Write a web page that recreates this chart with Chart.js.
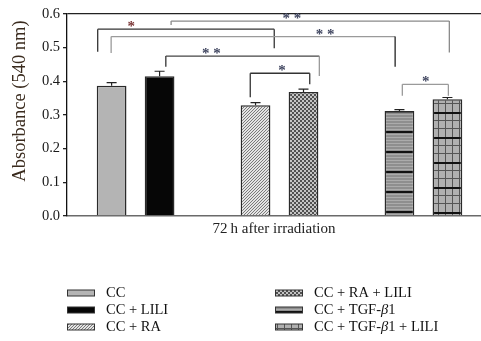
<!DOCTYPE html>
<html>
<head>
<meta charset="utf-8">
<script src="https://cdn.jsdelivr.net/npm/chart.js@4"></script>
<style>
  html, body { margin: 0; padding: 0; background: #fff; }
  #wrap { width: 481px; height: 341px; }
</style>
</head>
<body>
<div id="wrap"><canvas id="chart" width="481" height="341"></canvas></div>
<script>
// groups, in bar order
const groups = ["CC", "CC + LILI", "CC + RA", "CC + RA + LILI", "CC + TGF-β1", "CC + TGF-β1 + LILI"];
// slot of each bar on the x axis (gaps between the three pairs)
const slots = [0, 1, 3, 4, 6, 7];
const absorbance = [0.387, 0.415, 0.329, 0.368, 0.312, 0.347];
const errors = [0.009, 0.015, 0.008, 0.009, 0.004, 0.005];
const yTicks = [0.0, 0.1, 0.2, 0.3, 0.4, 0.5, 0.6];

// significance brackets (x in slot units, y in absorbance units)
const sigLeft = [-0.29, 1.24, -0.01, 1.13, 2.89, 6.06];
const sigRight = [3.39, 7.04, 5.91, 4.33, 4.13, 7.02];
const sigTop = [0.555, 0.579, 0.533, 0.475, 0.424, 0.391];
const sigLeftFoot = [0.488, 0.567, 0.484, 0.443, 0.353, 0.357];
const sigRightFoot = [0.498, 0.486, 0.443, 0.416, 0.391, 0.357];
const sigMark = ["*", "* *", "* *", "* *", "*", "*"];
const sigMarkAt = [0.41, 3.76, 4.45, 2.08, 3.55, 6.55];

const serif = "'Liberation Serif', 'Times New Roman', serif";

function makePattern(w, h, paint) {
	const c = document.createElement("canvas");
	c.width = w;
	c.height = h;
	paint(c.getContext("2d"), w, h);
	return c;
}

const ctx = document.getElementById("chart").getContext("2d");

const hatchTile = makePattern(3, 3, (g) => {
	g.fillStyle = "#e4e4e4";
	g.fillRect(0, 0, 3, 3);
	g.fillStyle = "#7a7a7a";
	g.fillRect(2, 0, 1, 1);
	g.fillRect(1, 1, 1, 1);
	g.fillRect(0, 2, 1, 1);
});
const dotTile = makePattern(4, 4, (g) => {
	g.fillStyle = "#c4c4c4";
	g.fillRect(0, 0, 4, 4);
	g.fillStyle = "#505050";
	g.fillRect(0, 0, 2, 2);
	g.fillRect(2, 2, 2, 2);
});
const lineTile = makePattern(4, 20, (g) => {
	g.fillStyle = "#8e8e8e";
	g.fillRect(0, 0, 4, 20);
	g.fillStyle = "#ababab";
	for (let y = 3; y < 20; y += 3) g.fillRect(0, y, 4, 1);
	g.fillStyle = "#111";
	g.fillRect(0, 0, 4, 2);
});
const gridTile = makePattern(7, 25, (g) => {
	g.fillStyle = "#b0b0b0";
	g.fillRect(0, 0, 7, 25);
	g.fillStyle = "#555";
	g.fillRect(0, 0, 1, 25);
	g.fillRect(0, 8, 7, 1);
	g.fillRect(0, 16, 7, 1);
	g.fillStyle = "#111";
	g.fillRect(0, 0, 7, 2);
});

const hatch = ctx.createPattern(hatchTile, "repeat");
const dots = ctx.createPattern(dotTile, "repeat");
const lines = ctx.createPattern(lineTile, "repeat");
lines.setTransform(new DOMMatrix().translate(0, 11));
const grid = ctx.createPattern(gridTile, "repeat");
grid.setTransform(new DOMMatrix().translate(4, 12));

const fills = ["#b4b4b4", "#060606", hatch, dots, lines, grid];

const bracketStyle = [
	{ l: "#333", h: "#333", r: "#333" },
	{ l: "#8a8a8a", h: "#8a8a8a", r: "#8a8a8a" },
	{ l: "#9a9a9a", h: "#9a9a9a", r: "#222" },
	{ l: "#333", h: "#444", r: "#9a9a9a" },
	{ l: "#333", h: "#333", r: "#333" },
	{ l: "#9a9a9a", h: "#9a9a9a", r: "#9a9a9a" },
];

function drawRich(g, text, x, y, size) {
	const parts = text.split("β");
	let cx = x;
	parts.forEach((p, i) => {
		g.font = `${size}px ${serif}`;
		g.fillText(p, cx, y);
		cx += g.measureText(p).width;
		if (i < parts.length - 1) {
			g.font = `italic ${size}px ${serif}`;
			g.fillText("β", cx, y);
			cx += g.measureText("β").width;
		}
	});
}

const annotations = {
	id: "annotations",
	afterDatasetsDraw(chart) {
		const { ctx: g, scales: { x, y } } = chart;
		g.save();

		// error bars
		g.strokeStyle = "#222";
		g.lineWidth = 1.2;
		absorbance.forEach((v, i) => {
			const px = x.getPixelForValue(slots[i]);
			const base = y.getPixelForValue(v);
			const top = y.getPixelForValue(v + errors[i]);
			g.beginPath();
			g.moveTo(px, base);
			g.lineTo(px, top);
			g.moveTo(px - 5, top);
			g.lineTo(px + 5, top);
			g.stroke();
		});

		// significance brackets
		g.lineWidth = 1.3;
		sigLeft.forEach((l, i) => {
			const xl = x.getPixelForValue(l);
			const xr = x.getPixelForValue(sigRight[i]);
			const yt = y.getPixelForValue(sigTop[i]);
			const st = bracketStyle[i];
			g.strokeStyle = st.l;
			g.beginPath();
			g.moveTo(xl, y.getPixelForValue(sigLeftFoot[i]));
			g.lineTo(xl, yt);
			g.stroke();
			g.strokeStyle = st.h;
			g.beginPath();
			g.moveTo(xl, yt);
			g.lineTo(xr, yt);
			g.stroke();
			g.strokeStyle = st.r;
			g.beginPath();
			g.moveTo(xr, yt);
			g.lineTo(xr, y.getPixelForValue(sigRightFoot[i]));
			g.stroke();

			g.font = `bold 15px ${serif}`;
			g.textAlign = "center";
			g.textBaseline = "alphabetic";
			g.fillStyle = i === 0 ? "#7a3535" : "#404660";
			const m = g.measureText(sigMark[i]);
			const cy = yt - 5;
			g.fillText(sigMark[i], x.getPixelForValue(sigMarkAt[i]), cy + (m.actualBoundingBoxAscent - m.actualBoundingBoxDescent) / 2);
		});

		g.restore();
	},
	afterDraw(chart) {
		const { ctx: g } = chart;
		g.save();

		// y axis title
		g.translate(20, 101);
		g.rotate(-Math.PI / 2);
		g.font = `18.5px ${serif}`;
		g.fillStyle = "#3a2b1e";
		g.textAlign = "center";
		g.textBaseline = "middle";
		g.fillText("Absorbance (540 nm)", 0, 0);
		g.setTransform(1, 0, 0, 1, 0, 0);

		// legend, two columns of three
		const colX = [67, 275];
		const rowY = [293, 310, 327];
		groups.forEach((name, i) => {
			const sx = colX[Math.floor(i / 3)];
			const sy = rowY[i % 3];
			g.fillStyle = fills[i];
			g.fillRect(sx, sy - 3, 28, 6);
			g.strokeStyle = "#333";
			g.lineWidth = 1;
			g.strokeRect(sx + 0.5, sy - 3, 27, 6);
			g.fillStyle = "#111";
			g.textAlign = "left";
			g.textBaseline = "middle";
			drawRich(g, name, sx + 39, sy, 14.5);
		});
		g.restore();
	},
};

new Chart(ctx, {
	type: "bar",
	data: {
		datasets: [
			{
				label: "Absorbance",
				data: slots.map((s, i) => ({ x: s, y: absorbance[i] })),
				backgroundColor: fills,
				borderColor: "#2a2a2a",
				borderWidth: 1.5,
				barPercentage: 0.62,
				categoryPercentage: 1.0,
			},
		],
	},
	options: {
		responsive: false,
		animation: false,
		layout: { padding: { top: 14, bottom: 103, left: 0, right: 0 } },
		plugins: { legend: { display: false }, tooltip: { enabled: false } },
		scales: {
			x: {
				type: "linear",
				offset: false,
				min: -0.93,
				max: 7.7,
				afterBuildTicks(scale) {
					scale.ticks = slots.map((v) => ({ value: v }));
				},
				grid: { display: false, drawTicks: false },
				ticks: { display: false },
				border: { display: true, color: "#6a6a6a", width: 1.6 },
				title: {
					display: true,
					text: "72\u2009h after irradiation",
					color: "#222",
					font: { family: serif, size: 15 },
					padding: { top: 0, bottom: 0 },
				},
				afterFit(scale) {
					scale.height = 22;
				},
			},
			y: {
				min: 0,
				max: 0.6,
				afterBuildTicks(scale) {
					scale.ticks = yTicks.map((v) => ({ value: v }));
				},
				ticks: {
					color: "#1a1a1a",
					padding: 3,
					font: { family: serif, size: 14.5 },
					callback: (v) => Number(v).toFixed(1),
				},
				grid: {
					drawTicks: true,
					tickLength: 4,
					lineWidth: 1.3,
					color: (c) => (c.tick && Math.abs(c.tick.value - 0.6) < 1e-6 ? "#222" : "rgba(0,0,0,0)"),
					tickColor: "#222",
				},
				border: { display: true, color: "#111", width: 1.3 },
				afterFit(scale) {
					scale.width = 67;
				},
			},
		},
	},
	plugins: [annotations],
});
</script>
</body>
</html>
